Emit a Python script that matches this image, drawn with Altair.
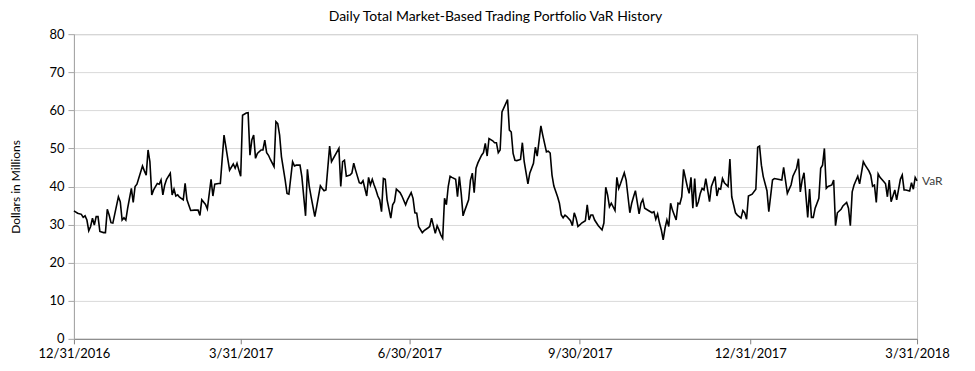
import altair as alt
import pandas as pd

TITLE = "Daily Total Market-Based Trading Portfolio VaR History"
Y_TITLE = "Dollars in Millions"
SERIES = "VaR"
START = "2016-12-31"

# days after 12/31/2016
day_offsets = [
    0, 2, 4, 5, 6, 7, 8, 9, 10, 11, 12, 13, 14, 16, 17, 18, 19, 20, 21, 24,
    25, 26, 27, 28, 29, 31, 32, 33, 34, 37, 38, 39, 40, 41, 42, 43, 45, 46, 47, 48,
    49, 50, 52, 53, 54, 55, 56, 57, 59, 60, 61, 63, 65, 67, 68, 69, 71, 72, 74, 75,
    76, 78, 79, 81, 84, 86, 87, 88, 89, 90, 91, 93, 94, 95, 96, 97, 98, 99, 101, 102,
    103, 104, 105, 106, 108, 109, 110, 111, 112, 114, 115, 116, 118, 119, 120, 122, 123, 125, 126, 127,
    128, 130, 131, 133, 134, 135, 136, 138, 139, 143, 144, 145, 146, 147, 149, 150, 151, 152, 154, 155,
    156, 158, 159, 160, 161, 162, 163, 164, 165, 166, 167, 168, 169, 171, 172, 173, 174, 176, 177, 179,
    180, 182, 183, 184, 185, 186, 188, 189, 191, 192, 193, 195, 196, 197, 198, 199, 200, 201, 202, 203,
    204, 206, 207, 208, 209, 210, 211, 213, 214, 215, 216, 217, 218, 220, 221, 222, 223, 224, 226, 227,
    228, 229, 230, 231, 234, 235, 236, 237, 238, 239, 241, 242, 243, 245, 246, 248, 249, 250, 252, 253,
    255, 256, 257, 258, 259, 261, 262, 263, 264, 265, 266, 268, 269, 270, 271, 272, 273, 274, 276, 277,
    278, 279, 280, 281, 283, 285, 286, 287, 288, 289, 290, 292, 293, 294, 295, 297, 298, 300, 301, 302,
    303, 305, 306, 307, 308, 310, 312, 313, 314, 315, 316, 317, 318, 319, 320, 321, 322, 323, 325, 326,
    327, 328, 329, 331, 332, 333, 334, 335, 336, 337, 338, 339, 340, 341, 343, 344, 346, 347, 348, 349,
    350, 351, 353, 354, 355, 356, 357, 358, 360, 361, 362, 363, 364, 366, 368, 369, 370, 371, 372, 374,
    375, 377, 378, 380, 382, 383, 385, 387, 388, 390, 391, 392, 393, 394, 396, 397, 398, 399, 400, 402,
    403, 404, 405, 406, 407, 409, 410, 411, 412, 414, 415, 417, 418, 419, 420, 421, 423, 424, 426, 427,
    429, 430, 431, 432, 433, 434, 435, 437, 438, 439, 440, 441, 442, 443, 444, 446, 447, 448, 449, 451,
    452, 453, 454, 455,
]

var_values = [
    33.6, 33.0, 32.7, 31.9, 32.3, 31.2, 28.4, 29.5, 31.7, 29.9, 32.1, 32.1, 28.2, 27.9, 27.9, 34.0, 32.5, 30.5, 30.4, 37.3,
    36.0, 31.2, 31.8, 31.2, 34.3, 39.5, 35.8, 40.0, 40.6, 45.4, 44.1, 43.0, 49.6, 46.5, 37.8, 39.1, 40.8, 40.6, 41.7, 37.8,
    40.4, 41.9, 43.5, 37.8, 39.3, 37.5, 37.8, 37.2, 36.5, 40.8, 36.5, 33.7, 33.8, 33.8, 32.4, 36.5, 35.3, 34.1, 41.9, 37.5,
    40.6, 40.8, 40.8, 53.5, 44.3, 45.9, 44.8, 46.1, 44.3, 42.7, 58.7, 59.3, 59.4, 48.2, 52.2, 53.5, 47.4, 48.7, 49.6, 49.6,
    52.2, 48.9, 48.2, 47.1, 45.2, 57.0, 56.5, 53.5, 47.8, 41.7, 38.2, 38.0, 46.5, 45.4, 45.6, 45.6, 42.6, 32.3, 44.5, 40.0,
    37.3, 32.1, 34.7, 40.2, 39.5, 38.9, 39.1, 50.6, 46.5, 50.0, 40.0, 46.5, 46.9, 42.7, 43.0, 43.5, 46.1, 44.3, 41.0, 40.8,
    41.5, 37.5, 42.4, 40.4, 41.9, 40.4, 39.1, 37.5, 36.5, 33.4, 42.1, 41.9, 36.5, 31.7, 35.2, 36.0, 39.3, 38.4, 37.5, 35.2,
    36.5, 38.4, 36.9, 33.1, 33.0, 29.5, 27.9, 28.4, 29.1, 29.5, 31.7, 27.7, 29.7, 28.6, 27.3, 26.4, 36.9, 35.2, 40.0, 42.7,
    42.4, 41.9, 37.3, 42.6, 38.2, 32.3, 33.8, 36.5, 41.7, 43.5, 38.4, 44.8, 46.2, 48.2, 48.9, 51.3, 48.0, 52.6, 52.0, 51.5,
    51.5, 48.9, 49.6, 59.6, 62.8, 54.8, 54.3, 48.7, 46.9, 46.8, 47.1, 51.5, 46.5, 40.7, 43.5, 46.1, 50.3, 48.0, 55.9, 53.5,
    49.1, 49.3, 48.8, 43.0, 40.1, 37.3, 35.6, 32.5, 31.8, 32.5, 32.1, 31.0, 29.7, 33.1, 31.7, 29.5, 29.9, 30.4, 31.0, 35.2,
    31.2, 32.5, 32.5, 31.2, 29.7, 28.6, 30.4, 39.8, 37.8, 34.7, 35.6, 33.7, 42.4, 39.5, 40.8, 43.6, 41.7, 33.1, 35.6, 37.3,
    38.9, 32.8, 35.6, 36.6, 34.3, 33.7, 33.1, 33.4, 31.4, 32.8, 30.4, 28.6, 26.0, 29.1, 31.2, 29.5, 35.6, 33.8, 31.2, 35.6,
    35.4, 37.3, 44.5, 40.0, 38.2, 42.4, 34.3, 42.1, 34.7, 36.0, 38.2, 39.5, 39.1, 42.1, 36.0, 40.0, 42.6, 37.5, 39.5, 39.3,
    42.1, 41.0, 40.0, 47.2, 37.3, 35.2, 33.1, 32.5, 31.7, 33.7, 33.1, 31.4, 37.5, 38.0, 39.3, 50.3, 50.6, 45.6, 42.6, 38.9,
    33.4, 41.7, 42.1, 41.9, 41.7, 45.0, 38.2, 40.4, 42.7, 44.8, 47.3, 38.6, 41.7, 43.6, 31.9, 39.3, 31.9, 31.9, 34.3, 36.9,
    44.8, 45.6, 50.0, 39.5, 40.0, 40.4, 41.7, 29.7, 33.1, 34.0, 34.9, 35.8, 34.3, 29.7, 38.6, 40.4, 42.7, 40.7, 46.5, 45.6,
    44.1, 43.0, 40.1, 40.4, 35.8, 43.3, 42.4, 41.3, 40.7, 37.3, 41.7, 36.0, 37.5, 39.1, 36.5, 41.9, 43.0, 39.1, 39.1, 38.8,
    41.0, 39.3, 42.4, 41.5,
]

x_ticks = ["2016-12-31", "2017-03-31", "2017-06-30", "2017-09-30", "2017-12-31", "2018-03-31"]
y_ticks = [0, 10, 20, 30, 40, 50, 60, 70, 80]

FONT = "Lato"

base = pd.Timestamp(START)
dates = [(base + pd.Timedelta(days=d)).strftime("%Y/%m/%d") for d in day_offsets]
df = pd.DataFrame({"date": dates, "value": var_values})
last = pd.DataFrame({"date": [dates[-1]], "value": [var_values[-1]], "label": [SERIES]})


def dt(s):
    y, m, d = (int(p) for p in s.split("-"))
    return alt.DateTime(year=y, month=m, date=d)


x_enc = alt.X(
    "date:T",
    scale=alt.Scale(domain=[dt(x_ticks[0]), dt(x_ticks[-1])], nice=False),
    axis=alt.Axis(
        values=[dt(t) for t in x_ticks],
        tickCount=len(x_ticks) + 1,
        format="%-m/%d/%Y",
        title=None,
        grid=False,
        labelFontSize=13,
        labelFont=FONT,
        labelColor="#000000",
        labelPadding=4,
        labelFlush=False,
        labelOverlap=False,
        tickSize=5,
        tickColor="#808080",
        domainColor="#808080",
    ),
)

y_enc = alt.Y(
    "value:Q",
    scale=alt.Scale(domain=[0, 80], nice=False),
    axis=alt.Axis(
        values=y_ticks,
        tickCount=len(y_ticks) + 1,
        title=Y_TITLE,
        titleFont=FONT,
        titleFontSize=12,
        titleFontWeight="normal",
        titleColor="#000000",
        titlePadding=26,
        grid=True,
        gridColor="#d9d9d9",
        labelFontSize=13,
        labelFont=FONT,
        labelColor="#000000",
        labelPadding=4,
        labelOverlap=False,
        labelFlush=False,
        tickSize=6,
        tickColor="#a6a6a6",
        domainColor="#a6a6a6",
    ),
)

line = alt.Chart(df).mark_line(color="#000000", strokeWidth=1.6).encode(x=x_enc, y=y_enc)

label = alt.Chart(last).mark_text(
    align="left", baseline="middle", dx=5, fontSize=12, font=FONT, color="#404040"
).encode(x=x_enc, y=y_enc, text="label:N")

chart = (
    alt.layer(line, label)
    .properties(
        width=844,
        height=305,
        title=alt.TitleParams(
            TITLE, font=FONT, fontSize=14, fontWeight="normal", color="#000000", anchor="middle", offset=4
        ),
        autosize=alt.AutoSizeParams(type="none"),
        padding={"left": 66, "top": 26, "right": 50, "bottom": 28},
    )
    .configure_view(stroke="#bfbfbf", strokeWidth=1)
)

chart.save("out.html", embed_options={"renderer": "svg", "actions": False})
